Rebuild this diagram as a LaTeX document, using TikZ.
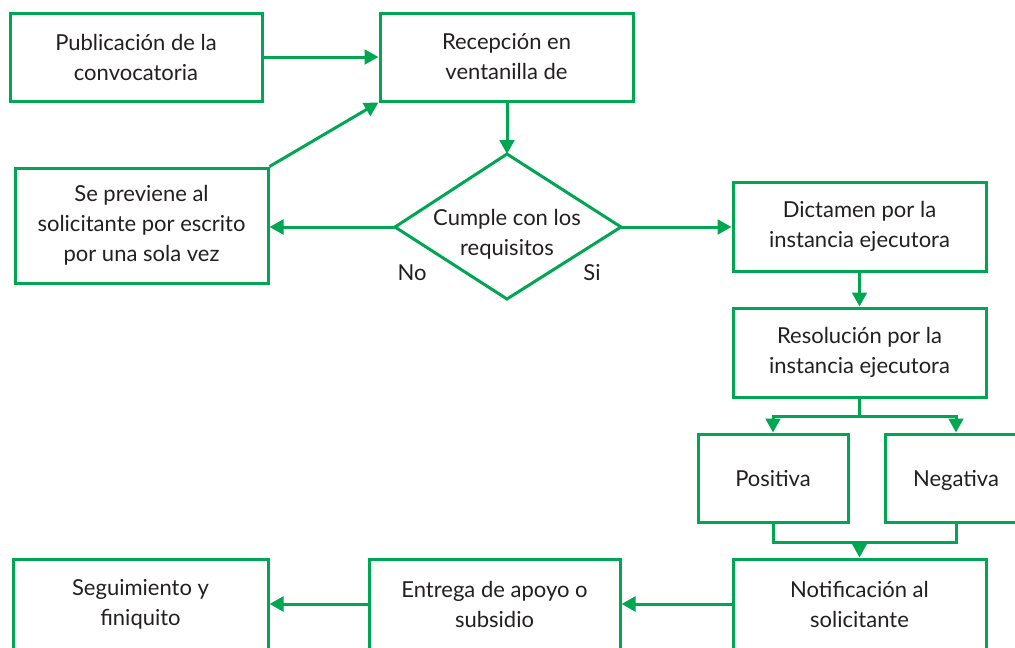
\documentclass[tikz,border=0pt]{standalone}
\usepackage{fontspec}
\setmainfont{Lato}
\usetikzlibrary{arrows.meta,calc}
\definecolor{flowgreen}{RGB}{0,166,81}
\definecolor{flowtext}{RGB}{35,31,32}
\tikzset{
  box/.style={draw=flowgreen, line width=2.25pt, fill=none, inner sep=0pt,
    align=center, text=flowtext, font=\fontsize{16.5}{22.5}\selectfont},
  single/.style={text height=13pt, text depth=1pt},
  arr/.style={draw=flowgreen, line width=2.25pt, -{Triangle[length=10.5pt,width=11pt]}},
  conn/.style={draw=flowgreen, line width=2.25pt},
  lbl/.style={text=flowtext, font=\fontsize{16.5}{22.5}\selectfont, inner sep=0pt, align=center}
}
\begin{document}
\begin{tikzpicture}[x=0.75pt,y=-0.75pt]
\useasboundingbox (0,0) rectangle (1015,647);
\clip (0,0) rectangle (1015,647);
% boxes
\node[box, minimum width=189pt, minimum height=66pt] (B1) at (136,57) {Publicación de la\\convocatoria};
\node[box, minimum width=189.75pt, minimum height=66pt] (B2) at (506.5,57) {Recepción en\\ventanilla de};
\node[box, minimum width=189.75pt, minimum height=86.25pt] (B3) at (141.5,225.5) {Se previene al\\solicitante por escrito\\por una sola vez};
\node[box, minimum width=189.75pt, minimum height=66.75pt] (B4) at (859.5,226.5) {Dictamen por la\\instancia ejecutora};
\node[box, minimum width=189.75pt, minimum height=66.75pt] (B5) at (859.5,352.5) {Resolución por la\\instancia ejecutora};
\node[box, single, minimum width=112.5pt, minimum height=66pt] (B6) at (773,478) {Positiva};
\node[box, single, minimum width=106.5pt, minimum height=66pt] (B7) at (956,478) {Negativa};
\node[box, minimum width=189.75pt, minimum height=67.5pt] (B8) at (859.5,604) {Notificación al\\solicitante};
\node[box, minimum width=188.25pt, minimum height=67.5pt] (B9) at (494.5,604) {Entrega de apoyo o\\subsidio};
\node[box, minimum width=191.25pt, minimum height=67.5pt] (B10) at (140.5,604) {Seguimiento y\\finiquito};
% diamond
\coordinate (dT) at (507,154);
\coordinate (dL) at (395,227);
\coordinate (dR) at (621,227);
\coordinate (dB) at (507,299);
\draw[conn, line join=miter] (dT) -- (dR) -- (dB) -- (dL) -- cycle;
\node[lbl] (dtext) at (507,234) {Cumple con los\\requisitos};
\node[lbl, single] (no) at (412,272) {No};
\node[lbl, single] (si) at (592,272) {Si};
% connectors
\draw[arr] (B1.east) -- (B2.west);
\draw[arr] (B2.south -| dT) -- (dT);
\draw[arr] (dL) -- (dL -| B3.east);
\draw[arr] (dR) -- (dR -| B4.west);
\draw[arr] (B3.north east) -- (B2.south west);
\draw[arr] (B4.south) -- (B5.north);
\coordinate (j1) at (859.5,416);
\draw[conn] (B5.south) -- (j1);
\draw[arr] (j1) -| (B6.north);
\draw[arr] (j1) -| (B7.north);
\coordinate (j2) at (859.5,542);
\draw[conn] (B6.south) |- (j2) -| (B7.south);
\draw[arr] (j2) -- (B8.north);
\draw[arr] (B8.west) -- (B9.east);
\draw[arr] (B9.west) -- (B10.east);
\end{tikzpicture}
\end{document}
